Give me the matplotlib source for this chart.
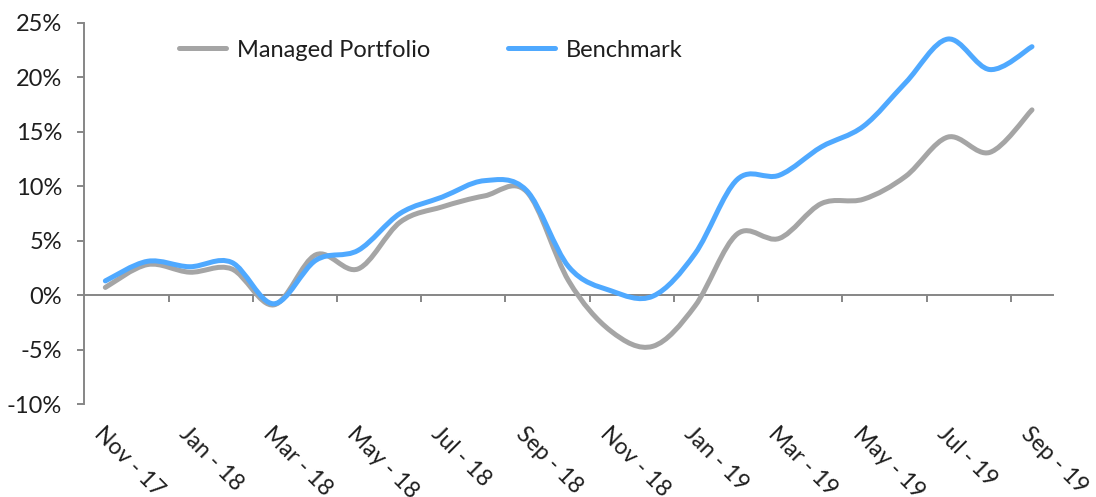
import matplotlib
matplotlib.use('Agg')
import matplotlib.pyplot as plt
from matplotlib.path import Path
from matplotlib.patches import PathPatch
from matplotlib.lines import Line2D
from matplotlib.ticker import FuncFormatter, FixedLocator

# Monthly cumulative returns (%), Nov-17 .. Sep-19
months = ['Nov - 17', 'Dec - 17', 'Jan - 18', 'Feb - 18', 'Mar - 18', 'Apr - 18',
          'May - 18', 'Jun - 18', 'Jul - 18', 'Aug - 18', 'Sep - 18', 'Oct - 18',
          'Nov - 18', 'Dec - 18', 'Jan - 19', 'Feb - 19', 'Mar - 19', 'Apr - 19',
          'May - 19', 'Jun - 19', 'Jul - 19', 'Aug - 19', 'Sep - 19']
managed = [0.7, 2.8, 2.1, 2.4, -0.9, 3.7, 2.4, 6.7, 8.1, 9.1, 9.5, 1.3,
           -3.3, -4.7, -1.0, 5.6, 5.2, 8.4, 8.8, 10.9, 14.5, 13.1, 17.0]
benchmark = [1.3, 3.1, 2.6, 3.0, -0.8, 3.2, 4.1, 7.5, 9.0, 10.5, 9.6, 2.6,
             0.4, -0.1, 3.8, 10.6, 11.0, 13.6, 15.5, 19.5, 23.5, 20.7, 22.8]
y_ticks = [-10, -5, 0, 5, 10, 15, 20, 25]

GREY = '#A5A5A5'
BLUE = '#4FA9FF'
AXIS = '#868686'
TEXT = '#1E1E1E'
FONT = 'Lato'
FSIZE = 17


def smooth_path(xs, ys):
    """Excel-style smoothed line: cubic Bezier segments through every point."""
    pts = list(zip(xs, ys))
    n = len(pts)
    verts = [pts[0]]
    codes = [Path.MOVETO]
    for i in range(n - 1):
        p0 = pts[i - 1] if i > 0 else pts[i]
        p1 = pts[i]
        p2 = pts[i + 1]
        p3 = pts[i + 2] if i + 2 < n else pts[i + 1]
        c1 = (p1[0] + (p2[0] - p0[0]) / 6, p1[1] + (p2[1] - p0[1]) / 6)
        c2 = (p2[0] - (p3[0] - p1[0]) / 6, p2[1] - (p3[1] - p1[1]) / 6)
        verts += [c1, c2, p2]
        codes += [Path.CURVE4] * 3
    return Path(verts, codes)


plt.rcParams['font.family'] = [FONT, 'DejaVu Sans']

fig = plt.figure(figsize=(10.96, 4.97), dpi=100)
ax = fig.add_axes([0.0769, 0.1871, 0.8839, 0.7672])

x = list(range(len(months)))
for values, color in [(managed, GREY), (benchmark, BLUE)]:
    patch = PathPatch(smooth_path(x, values), facecolor='none', edgecolor=color,
                      linewidth=3.6, capstyle='round', joinstyle='round', clip_on=False)
    ax.add_patch(patch)

ymin, ymax = y_ticks[0], y_ticks[-1]
ax.set_xlim(-0.5, len(months) - 0.5)
ax.set_ylim(ymin, ymax)

# y axis
for side in ['top', 'right', 'bottom']:
    ax.spines[side].set_visible(False)
ax.spines['left'].set_color(AXIS)
ax.spines['left'].set_linewidth(1.4)
ax.set_yticks(y_ticks)
ax.yaxis.set_major_formatter(FuncFormatter(lambda v, pos: f'{v:.0f}%'))
ax.tick_params(axis='y', direction='out', length=5, width=1.4, color=AXIS,
               labelsize=FSIZE, labelcolor=TEXT, pad=11)

# month labels below the plot area, every second month
ax.set_xticks(x[::2])
ax.set_xticklabels(months[::2])
ax.tick_params(axis='x', length=0, labelsize=16.5, labelcolor=TEXT, pad=14)
for lbl in ax.get_xticklabels():
    lbl.set_rotation(-45)
    lbl.set_ha('left')
    lbl.set_va('top')
    lbl.set_rotation_mode('anchor')

# category axis line sitting at 0%
zero_axis = ax.secondary_xaxis((0 - ymin) / (ymax - ymin))
zero_axis.spines['bottom'].set_color(AXIS)
zero_axis.spines['bottom'].set_linewidth(1.4)
zero_axis.xaxis.set_major_locator(FixedLocator([i + 1.5 for i in x[::2][:-1]]))
zero_axis.tick_params(axis='x', direction='out', length=5, width=1.4, color=AXIS,
                      labelbottom=False)

handles = [Line2D([], [], color=GREY, linewidth=3.6, solid_capstyle='round'),
           Line2D([], [], color=BLUE, linewidth=3.6, solid_capstyle='round')]
ax.legend(handles, ['Managed Portfolio', 'Benchmark'], ncol=2, frameon=False,
          loc='center left', bbox_to_anchor=(0.098, 0.928), borderpad=0,
          borderaxespad=0, handlelength=2.0, handletextpad=0.45, columnspacing=3.3,
          prop={'size': FSIZE}, labelcolor=TEXT)

fig.savefig('out.png', dpi=100)
